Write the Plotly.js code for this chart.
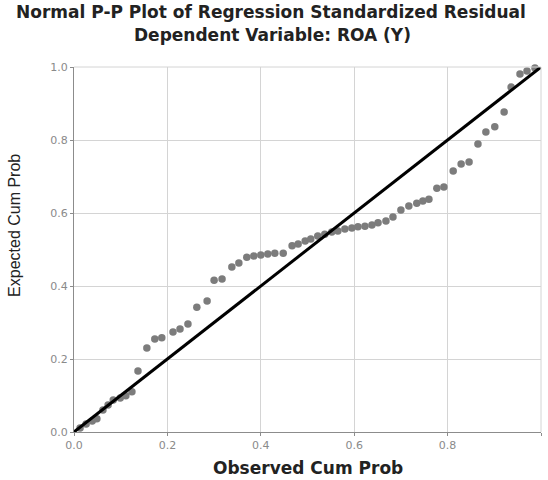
<!DOCTYPE html>
<html>
<head>
<meta charset="utf-8">
<script src="https://cdn.plot.ly/plotly-3.0.1.min.js"></script>
<style>html,body{margin:0;padding:0;background:#fff;}#chart{width:548px;height:480px;}</style>
</head>
<body>
<div id="chart"></div>
<script>
// Observed cumulative probability (x) and expected cumulative probability (y)
const observedCumProb = [0.013,0.026,0.039,0.049,0.062,0.073,0.084,0.099,0.111,0.124,0.137,0.156,0.173,0.188,0.212,0.227,0.244,0.263,0.285,0.300,0.317,0.338,0.353,0.370,0.385,0.400,0.415,0.430,0.448,0.467,0.480,0.495,0.507,0.522,0.537,0.552,0.565,0.580,0.595,0.608,0.623,0.638,0.651,0.668,0.683,0.700,0.717,0.734,0.747,0.760,0.777,0.792,0.812,0.829,0.846,0.865,0.882,0.901,0.921,0.936,0.955,0.970,0.987];
const expectedCumProb = [0.011,0.022,0.030,0.036,0.060,0.074,0.088,0.093,0.099,0.110,0.167,0.230,0.255,0.258,0.274,0.282,0.296,0.342,0.359,0.416,0.419,0.452,0.463,0.479,0.482,0.485,0.488,0.490,0.490,0.510,0.515,0.523,0.529,0.537,0.542,0.548,0.551,0.556,0.559,0.562,0.564,0.567,0.573,0.578,0.589,0.608,0.619,0.627,0.633,0.638,0.668,0.671,0.715,0.734,0.740,0.789,0.822,0.836,0.877,0.945,0.981,0.989,0.997];
const refLineX = [0, 1];
const refLineY = [0, 1];
const tickVals = [0, 0.2, 0.4, 0.6, 0.8, 1.0];
const tickText = ["0.0", "0.2", "0.4", "0.6", "0.8", "1.0"];
const titleLine1 = 'Normal P-P Plot of Regression Standardized Residual';
const titleLine2 = 'Dependent Variable: ROA (Y)';
const xTitle = 'Observed Cum Prob';
const yTitle = 'Expected Cum Prob';

const traces = [
  {
    x: observedCumProb, y: expectedCumProb, type: 'scatter', mode: 'markers',
    marker: {color: '#7c7c7c', size: 7.5}, hoverinfo: 'x+y', cliponaxis: false
  },
  {
    x: refLineX, y: refLineY, type: 'scatter', mode: 'lines',
    line: {color: '#000', width: 3}, hoverinfo: 'skip', cliponaxis: false
  }
];

const axisBase = {
  range: [0, 1], tickvals: tickVals, ticktext: tickText,
  showgrid: true, gridcolor: '#d4d4d4', gridwidth: 1,
  zeroline: false, showline: true, linecolor: '#8c8c8c', linewidth: 1,
  ticks: 'outside', ticklen: 3, tickcolor: '#8c8c8c',
  tickfont: {family: 'DejaVu Sans, sans-serif', size: 11, color: '#8a8a8a'},
  fixedrange: true
};

const boldFont = {family: 'DejaVu Sans, sans-serif', size: 17, color: '#222'};

const layout = {
  width: 548, height: 480,
  margin: {l: 74, r: 7, t: 67, b: 48},
  paper_bgcolor: '#fff', plot_bgcolor: '#fff',
  showlegend: false,
  xaxis: Object.assign({}, axisBase, {}),
  yaxis: Object.assign({}, axisBase, {}),
  annotations: [
    {text: '<b>' + titleLine1 + '</b>', xref: 'paper', yref: 'paper', x: 0.422, y: 1.1507,
     xanchor: 'center', yanchor: 'middle', showarrow: false, font: boldFont},
    {text: '<b>' + titleLine2 + '</b>', xref: 'paper', yref: 'paper', x: 0.426, y: 1.0877,
     xanchor: 'center', yanchor: 'middle', showarrow: false, font: boldFont},
    {text: '<b>' + xTitle + '</b>', xref: 'paper', yref: 'paper', x: 0.5, y: -0.0986,
     xanchor: 'center', yanchor: 'middle', showarrow: false,
     font: {family: 'DejaVu Sans, sans-serif', size: 17, color: '#222'}},
    {text: yTitle, xref: 'paper', yref: 'paper', x: -0.126, y: 0.565,
     xanchor: 'center', yanchor: 'middle', showarrow: false, textangle: -90,
     font: {family: 'Liberation Sans, Arial, sans-serif', size: 16, color: '#222'}}
  ],
  shapes: [
    {type: 'line', xref: 'paper', yref: 'paper', x0: 0, x1: 1, y0: 1, y1: 1, line: {color: '#d4d4d4', width: 1}},
    {type: 'line', xref: 'paper', yref: 'paper', x0: 1, x1: 1, y0: 0, y1: 1, line: {color: '#d4d4d4', width: 1}}
  ]
};

Plotly.newPlot('chart', traces, layout, {displayModeBar: false, staticPlot: true});
</script>
</body>
</html>
